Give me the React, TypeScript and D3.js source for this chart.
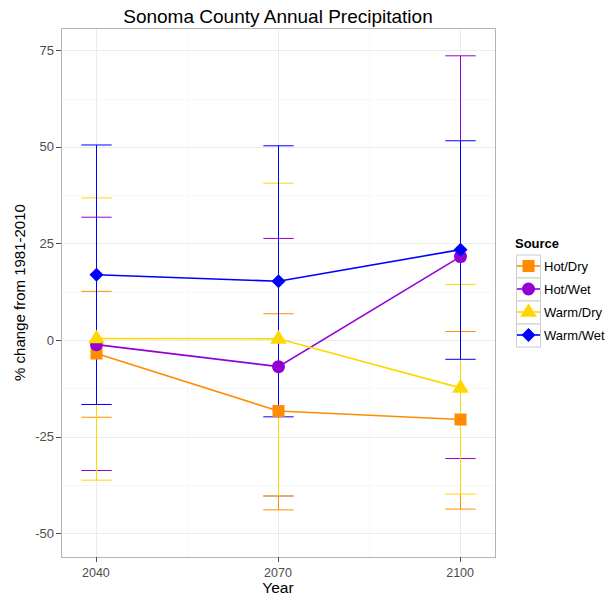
import React from "react";
import * as d3 from "d3";

const years = [2040, 2070, 2100];
const sources = ["Hot/Dry", "Hot/Wet", "Warm/Dry", "Warm/Wet"];
const colors = ["#FF8C00", "#9400D3", "#FFD700", "#0000FF"];
const shapes = ["square", "circle", "triangle", "diamond"];

// mean % change per source, per year
const hotDry = [-3.5, -18.4, -20.6];
const hotWet = [-1.2, -6.9, 21.6];
const warmDry = [0.4, 0.3, -12.4];
const warmWet = [16.9, 15.2, 23.4];

const hotDryHi = [12.6, 6.8, 2.2];
const hotDryLo = [-20.0, -44.0, -43.8];
const hotWetHi = [31.8, 26.3, 73.6];
const hotWetLo = [-33.8, -40.4, -30.7];
const warmDryHi = [36.8, 40.6, 14.4];
const warmDryLo = [-36.3, -40.4, -39.9];
const warmWetHi = [50.5, 50.3, 51.6];
const warmWetLo = [-16.7, -19.9, -5.0];

const yTicks = [-50, -25, 0, 25, 50, 75];

const means = [hotDry, hotWet, warmDry, warmWet];
const highs = [hotDryHi, hotWetHi, warmDryHi, warmWetHi];
const lows = [hotDryLo, hotWetLo, warmDryLo, warmWetLo];

const W = 611;
const H = 596;
const panel = { left: 61, right: 495, top: 28, bottom: 557 };

const x = d3.scaleLinear().domain([2034.25, 2105.75]).range([panel.left, panel.right]);
const y = d3.scaleLinear().domain([-56.2, 80.8]).range([panel.bottom, panel.top]);
const px = (v: number) => Math.round(v) + 0.5;

function Marker({ shape, cx, cy, color }: { shape: string; cx: number; cy: number; color: string }) {
  if (shape === "square") {
    return <rect x={cx - 6} y={cy - 6} width={12} height={12} fill={color} />;
  }
  if (shape === "circle") {
    return <circle cx={cx} cy={cy} r={6.5} fill={color} />;
  }
  if (shape === "triangle") {
    const s = 8;
    return (
      <path
        d={`M${cx},${cy - s * 1.1} L${cx + s * 1.05},${cy + s * 0.6} L${cx - s * 1.05},${cy + s * 0.6} Z`}
        fill={color}
      />
    );
  }
  const s = 7;
  return <path d={`M${cx},${cy - s} L${cx + s},${cy} L${cx},${cy + s} L${cx - s},${cy} Z`} fill={color} />;
}

export default function App() {
  const font = "'Liberation Sans', Arial, sans-serif";
  const line = d3
    .line<number>()
    .x((_, i) => px(x(years[i])))
    .y((d) => y(d));
  const capHalf = x(2.5) - x(0);
  const minorX = [2055, 2085];
  const minorY = [-37.5, -12.5, 12.5, 37.5, 62.5];

  return (
    <svg width={W} height={H} style={{ position: "absolute", left: 0, top: 0 }} fontFamily={font}>
      <rect width={W} height={H} fill="#fff" />
      {/* grid */}
      {minorY.map((v) => (
        <line key={"my" + v} x1={panel.left} x2={panel.right} y1={px(y(v))} y2={px(y(v))} stroke="#f7f7f7" strokeWidth={1} />
      ))}
      {minorX.map((v) => (
        <line key={"mx" + v} y1={panel.top} y2={panel.bottom} x1={px(x(v))} x2={px(x(v))} stroke="#f7f7f7" strokeWidth={1} />
      ))}
      {yTicks.map((v) => (
        <line key={"gy" + v} x1={panel.left} x2={panel.right} y1={px(y(v))} y2={px(y(v))} stroke="#ebebeb" strokeWidth={1} />
      ))}
      {years.map((v) => (
        <line key={"gx" + v} y1={panel.top} y2={panel.bottom} x1={px(x(v))} x2={px(x(v))} stroke="#ebebeb" strokeWidth={1} />
      ))}

      {/* error bars: crisp verticals, soft caps */}
      {sources.map((s, si) =>
        years.map((yr, i) => {
          const cx = px(x(yr));
          const hi = y(highs[si][i]);
          const lo = y(lows[si][i]);
          return (
            <g key={s + yr} stroke={colors[si]} strokeWidth={1}>
              <line x1={cx} x2={cx} y1={hi} y2={lo} />
              <line x1={cx - capHalf} x2={cx + capHalf} y1={hi} y2={hi} />
              <line x1={cx - capHalf} x2={cx + capHalf} y1={lo} y2={lo} />
            </g>
          );
        })
      )}

      {/* lines */}
      {sources.map((s, si) => (
        <path key={"l" + s} d={line(means[si]) || ""} fill="none" stroke={colors[si]} strokeWidth={1.6} />
      ))}

      {/* points */}
      {sources.map((s, si) =>
        years.map((yr, i) => (
          <Marker key={"p" + s + yr} shape={shapes[si]} cx={px(x(yr))} cy={y(means[si][i])} color={colors[si]} />
        ))
      )}

      {/* panel border */}
      <rect
        x={panel.left + 0.5}
        y={panel.top + 0.5}
        width={panel.right - panel.left}
        height={panel.bottom - panel.top}
        fill="none"
        stroke="#b3b3b3"
        strokeWidth={1}
      />

      {/* y axis */}
      {yTicks.map((v) => (
        <g key={"ty" + v}>
          <line x1={panel.left - 5} x2={panel.left} y1={px(y(v))} y2={px(y(v))} stroke="#4d4d4d" />
          <text x={panel.left - 7} y={y(v)} dy="0.35em" textAnchor="end" fontSize={13} fill="#4d4d4d">
            {v}
          </text>
        </g>
      ))}
      {/* x axis */}
      {years.map((v) => (
        <g key={"tx" + v}>
          <line y1={panel.bottom} y2={panel.bottom + 5} x1={px(x(v))} x2={px(x(v))} stroke="#4d4d4d" />
          <text x={x(v)} y={577} textAnchor="middle" fontSize={12.5} fill="#4d4d4d">
            {v}
          </text>
        </g>
      ))}

      <text x={(panel.left + panel.right) / 2} y={593} textAnchor="middle" fontSize={15.5}>
        Year
      </text>
      <text
        transform={`translate(25, ${(panel.top + panel.bottom) / 2}) rotate(-90)`}
        textAnchor="middle"
        fontSize={15}
      >
        % change from 1981-2010
      </text>
      <text x={(panel.left + panel.right) / 2} y={23} textAnchor="middle" fontSize={19}>
        Sonoma County Annual Precipitation
      </text>

      {/* legend */}
      <text x={515} y={248} fontSize={13} fontWeight="bold">
        Source
      </text>
      {sources.map((s, si) => {
        const cy = 266 + si * 23;
        return (
          <g key={"lg" + s}>
            <rect x={516.5} y={cy - 11} width={24} height={23} fill="#fff" stroke="#cccccc" strokeWidth={1} />
            <line x1={517} x2={540} y1={cy} y2={cy} stroke={colors[si]} strokeWidth={1.6} />
            <Marker shape={shapes[si]} cx={528.5} cy={cy} color={colors[si]} />
            <text x={544} y={cy} dy="0.35em" fontSize={13}>
              {s}
            </text>
          </g>
        );
      })}
    </svg>
  );
}
